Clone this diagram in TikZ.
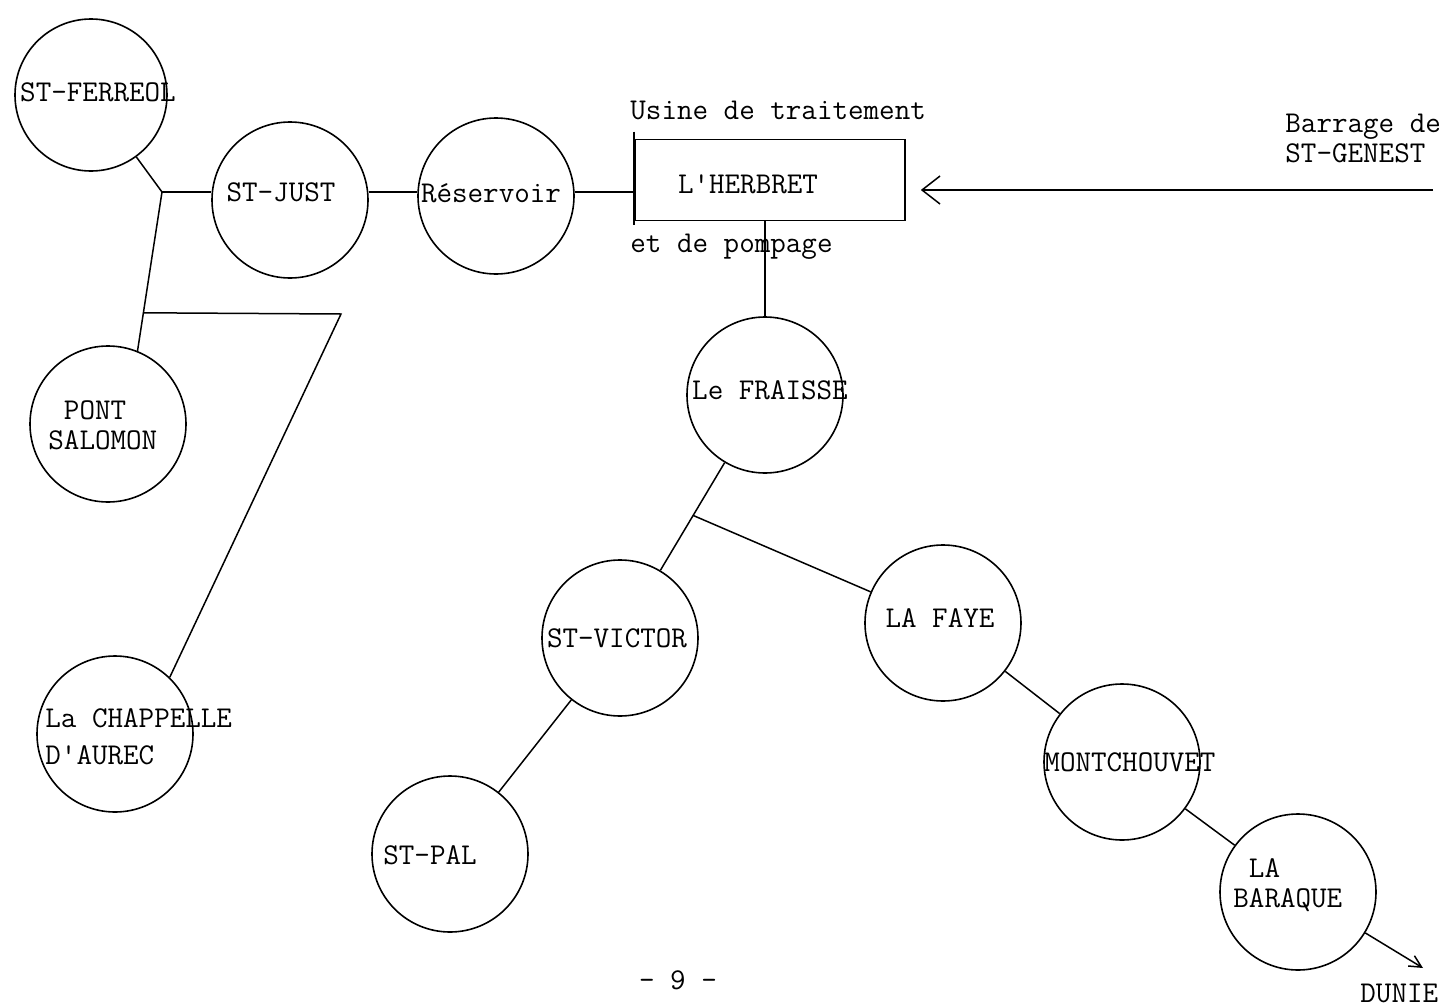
\documentclass[tikz,border=0pt]{standalone}
\usepackage{fontspec}
\usetikzlibrary{arrows.meta}

\begin{document}
\begin{tikzpicture}[x=0.5pt,y=0.5pt,yscale=-1,
		town/.style={draw, circle, line width=0.8pt, minimum size=78pt, inner sep=0pt},
		plant/.style={draw, rectangle, line width=0.8pt, minimum width=135pt, minimum height=40.5pt, inner sep=0pt},
		lbl/.style={font=\ttfamily\fontsize{15.1}{15}\selectfont, inner sep=0pt, align=left},
		pipe/.style={line width=0.75pt},
		inflow/.style={line width=0.75pt, -{Straight Barb[length=9pt,width=14pt]}, shorten >=7.5pt},
		outflow/.style={line width=0.75pt, -{Straight Barb[length=6pt,width=6pt]}}]
		\useasboundingbox (0,0) rectangle (1448,1007);
		
		%Shape: Circle
		\node[town, minimum size=76pt] (ferreol) at (91,95) {};
		\node[town] (stjust) at (290,200) {};
		\node[town] (reservoir) at (496,196) {};
		\node[town] (pont) at (108,424) {};
		\node[town] (chapelle) at (115,734) {};
		\node[town] (fraisse) at (765,395) {};
		\node[town] (stvictor) at (620,638) {};
		\node[town] (stpal) at (450,854) {};
		\node[town] (lafaye) at (943,623) {};
		\node[town] (montch) at (1122,762) {};
		\node[town] (baraque) at (1298,892) {};
		%Shape: Rectangle
		\node[plant] (herbret) at (770,180) {};
		\draw[pipe] (herbret.north west) ++(0,-7) -- ++(0,93);
		
		% Text Node
		\node[lbl] (ferreoltxt) at (98,92) {ST-FERREOL};
		\node[lbl] (stjusttxt) at (281,192) {ST-JUST};
		\node[lbl] (reservoirtxt) at (491,193) {Réservoir};
		\node[lbl, anchor=west] (ponttxt) at (48,425) {\phantom{S}PONT\\SALOMON};
		\node[lbl, anchor=west, font=\ttfamily\fontsize{15.1}{18.5}\selectfont] (chapelletxt) at (45,737) {La CHAPPELLE\\D'AUREC};
		\node[lbl] (herbrettxt) at (748,184) {L'HERBRET};
		\node[lbl, anchor=west] (usinetxt) at (630,110) {Usine de traitement};
		\node[lbl, anchor=west] (pompagetxt) at (630,247) {et de pompage};
		\node[lbl, anchor=west] (barragetxt) at (1285,138) {Barrage de\\ST-GENEST};
		\node[lbl] (fraissetxt) at (770,390) {Le FRAISSE};
		\node[lbl] (stvictortxt) at (617,638) {ST-VICTOR};
		\node[lbl] (stpaltxt) at (430,855) {ST-PAL};
		\node[lbl] (lafayetxt) at (940,618) {LA FAYE};
		\node[lbl] (montchtxt) at (1130,762) {MONTCHOUVET};
		\node[lbl, anchor=west] (baraquetxt) at (1233,885) {\phantom{B}LA\\BARAQUE};
		\node[lbl, anchor=west] (dunietxt) at (1360,993) {DUNIE};
		\node[lbl] (pagetxt) at (678,980) {- 9 -};
		
		%Straight Lines
		\coordinate (j1) at (162,192);
		\coordinate (j3) at (341,314);
		\draw[pipe] (ferreol) -- (j1);
		\draw[pipe] (j1) -- (j1 -| stjust.west);
		\draw[pipe] (stjust.east |- j1) -- (reservoir.west |- j1);
		\draw[pipe] (reservoir.east |- j1) -- (herbret.west |- j1);
		\draw[pipe] (j1) -- coordinate[pos=0.76] (j2) (pont.68);
		\draw[pipe] (j2) -- (j3) -- (chapelle.46);
		\draw[pipe] (herbret.south -| fraisse) -- (fraisse);
		\draw[pipe] (fraisse) -- coordinate[pos=0.49] (split) (stvictor);
		\draw[pipe] (split) -- (lafaye);
		\draw[pipe] (lafaye) -- (montch);
		\draw[pipe] (montch) -- (baraque);
		\draw[pipe] (stvictor) -- (stpal);
		
		%Arrows
		\coordinate (intake) at (1433,190);
		\coordinate (dunieend) at (1423,968);
		\draw[inflow] (intake) -- (intake -| herbret.east);
		\draw[outflow] (baraque) -- (dunieend);
	\end{tikzpicture}
\end{document}
